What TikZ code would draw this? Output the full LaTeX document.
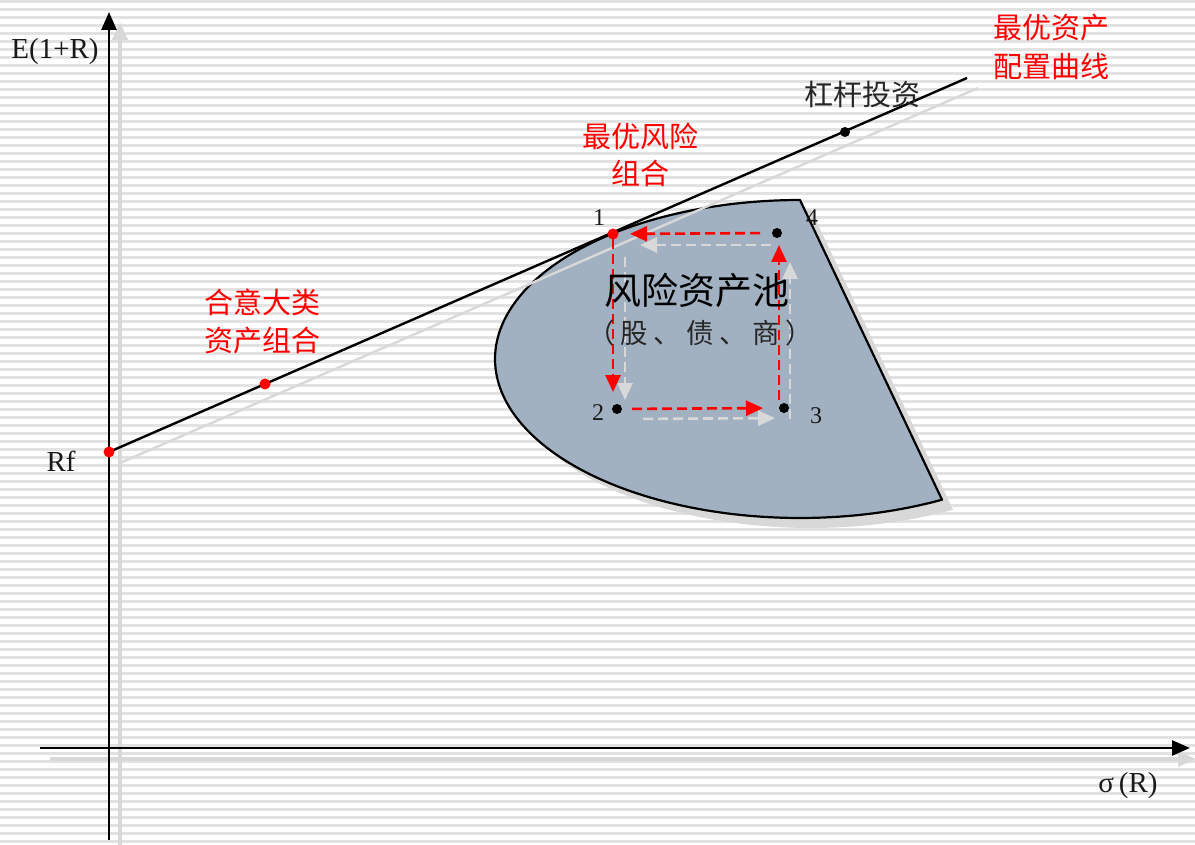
\documentclass[tikz,border=0pt]{standalone}
\usepackage{fontspec}
\setmainfont{Liberation Serif}
\newfontfamily\cjk{Noto Sans CJK SC}
\newfontfamily\cjkwide[LetterSpace=20]{Noto Sans CJK SC}
\usetikzlibrary{arrows.meta}
\definecolor{poolfill}{RGB}{162,177,193}
\definecolor{shadowgray}{RGB}{216,216,216}
\definecolor{stripecol}{RGB}{226,226,226}
\begin{document}
\begin{tikzpicture}[x=1pt,y=-1pt,
  stripeline/.style={stripecol, line width=2.6pt},
  axis/.style={black, line width=2.6pt, -{Triangle[length=18pt,width=15pt]}},
  axisshadow/.style={shadowgray, line width=3.8pt, -{Triangle[length=18pt,width=15pt]}},
  cml/.style={black, line width=2.4pt},
  cmlshadow/.style={shadowgray, line width=2.4pt},
  reddot/.style={circle, fill=red, inner sep=0pt, minimum size=11pt},
  blackdot/.style={circle, fill=black, inner sep=0pt, minimum size=10pt},
  redarrow/.style={red, line width=2.6pt, dash pattern=on 10pt off 5pt, -{Triangle[length=17pt,width=15pt]}},
  grayarrow/.style={shadowgray, line width=2.6pt, dash pattern=on 10pt off 5pt, -{Triangle[length=17pt,width=15pt]}},
  cnred/.style={text=red, font=\cjk\fontsize{29}{39}\selectfont, align=center, inner sep=0pt},
  cnblack/.style={text=black!85, font=\cjk\fontsize{29}{39}\selectfont, align=center, inner sep=0pt},
  latin/.style={text=black!90, font=\fontsize{29}{34}\selectfont, inner sep=0pt},
  digit/.style={text=black!90, font=\fontsize{24}{28}\selectfont, inner sep=0pt}
]
\useasboundingbox (0,0) rectangle (1195,845);
\fill[white] (0,0) rectangle (1195,845);
\foreach \i in {0,...,105} {
  \draw[stripeline] (0,{1.5+8*\i}) -- (1195,{1.5+8*\i});
}

% axes
\coordinate (yb) at (109,840);
\coordinate (yt) at (109,12);
\coordinate (xl) at (40,748);
\coordinate (xr) at (1190,748);
\draw[axisshadow] ([shift={(11,6)}]yb) -- ([shift={(11,10)}]yt);
\draw[axisshadow] ([shift={(10,11)}]xl) -- ([shift={(6,11)}]xr);
\draw[axis] (yb) -- (yt);
\draw[axis] (xl) -- (xr);

% risk asset pool
\fill[shadowgray, shift={(11,10)}] plot[domain=90:297.75, samples=150] ({800+305*cos(\x)},{359-159*sin(\x)}) -- cycle;
\filldraw[fill=poolfill, draw=black, line width=2.2pt, line join=round] plot[domain=90:297.75, samples=150] ({800+305*cos(\x)},{359-159*sin(\x)}) -- cycle;

% capital market line
\coordinate (cmlend) at (967,78);
\coordinate (rfpt) at (109,452);
\draw[cmlshadow] ([shift={(11,11)}]rfpt) -- ([shift={(11,10)}]cmlend);
\draw[cml] (rfpt) -- (cmlend);

% dots
\node[reddot] (rf) at (109,452) {};
\node[reddot] (p0) at (265,384) {};
\node[reddot] (p1) at (613,234) {};
\node[blackdot] (lev) at (845,132) {};
\node[blackdot] (p2) at (617,409) {};
\node[blackdot] (p3) at (784,408) {};
\node[blackdot] (p4) at (777,233) {};
\coordinate (c12) at (p1.center |- p2.center);
\coordinate (c43) at (p4.center |- p3.center);

% gray shadow arrows
\draw[grayarrow, shorten <=17pt, shorten >=16pt] ([shift={(11,12)}]p4.center) -- ([shift={(11,11)}]p1.center);
\draw[grayarrow, shorten <=12pt, shorten >=20pt] ([shift={(12,11)}]p1.center) -- ([shift={(12,11)}]c12);
\draw[grayarrow, shorten <=15pt, shorten >=20pt] ([shift={(11,10)}]p2.center) -- ([shift={(11,10)}]p3.center);
\draw[grayarrow, shorten <=0pt, shorten >=18pt] ([shift={(13,11)}]c43) -- ([shift={(13,11)}]p4.center);

% red arrows
\draw[redarrow, shorten <=17pt, shorten >=17pt] (p4.center) -- (p1.center);
\draw[redarrow, shorten <=5pt, shorten >=17pt] (p1.center) -- (c12);
\draw[redarrow, shorten <=15pt, shorten >=21pt] (p2.center) -- (p3.center);
\draw[redarrow, shorten <=8pt, shorten >=12pt] ([xshift=2]c43) -- ([xshift=2]p4.center);

% labels
\node[latin] (ylab) at (55,52) {E(1+R)};
\node[latin] (rflab) at (61,461) {Rf};
\node[latin] (xlab) at (1128,786) {σ\,(R)};
\node[digit] (l1) at (599,218) {1};
\node[digit] (l2) at (598,413) {2};
\node[digit] (l3) at (816,416) {3};
\node[digit] (l4) at (812,218) {4};

\node[cnred] (t1) at (1051,47) {最优资产\\配置曲线};
\node[cnblack] (t2) at (862,95) {杠杆投资};
\node[cnred, font=\cjk\fontsize{29}{37}\selectfont] (t3) at (640,155) {最优风险\\组合};
\node[cnred, font=\cjk\fontsize{29}{38}\selectfont] (t4) at (262,321) {合意大类\\资产组合};
\node[text=black, font=\cjk\fontsize{37}{40}\selectfont, inner sep=0pt] (t5) at (697,290) {风险资产池};
\node[text=black!85, font=\cjkwide\fontsize{27.5}{30}\selectfont, inner sep=0pt] (t6) at (700,333) {（股、债、商）};
\end{tikzpicture}
\end{document}
